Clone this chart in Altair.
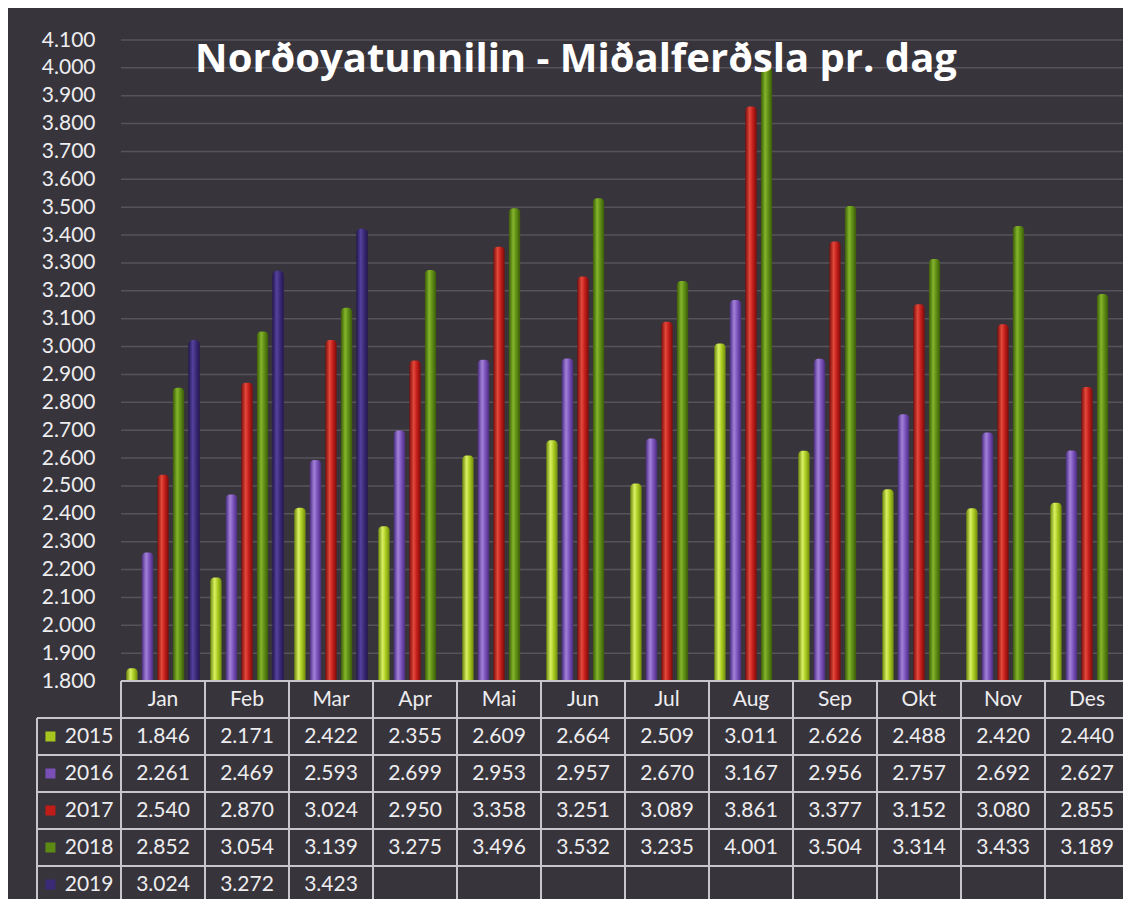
import altair as alt
import pandas as pd

# ---------------- data ----------------
months = ["Jan", "Feb", "Mar", "Apr", "Mai", "Jun", "Jul", "Aug", "Sep", "Okt", "Nov", "Des"]
years = ["2015", "2016", "2017", "2018", "2019"]
v2015 = [1846, 2171, 2422, 2355, 2609, 2664, 2509, 3011, 2626, 2488, 2420, 2440]
v2016 = [2261, 2469, 2593, 2699, 2953, 2957, 2670, 3167, 2956, 2757, 2692, 2627]
v2017 = [2540, 2870, 3024, 2950, 3358, 3251, 3089, 3861, 3377, 3152, 3080, 2855]
v2018 = [2852, 3054, 3139, 3275, 3496, 3532, 3235, 4001, 3504, 3314, 3433, 3189]
v2019 = [3024, 3272, 3423]
y_ticks = [1800, 1900, 2000, 2100, 2200, 2300, 2400, 2500, 2600, 2700, 2800, 2900,
           3000, 3100, 3200, 3300, 3400, 3500, 3600, 3700, 3800, 3900, 4000, 4100]
title_text = "Norðoyatunnilin - Miðalferðsla pr. dag"

# ---------------- style ----------------
BG = "#38343b"
GRID = "#57535b"
LINE = "#c6c6cc"
TXT = "#ededf0"
FONT = "Lato"
base_colors = ["#a6c61e", "#7a50b8", "#c01c18", "#5c8a14", "#3b2a78"]
shades = {
    "2015": ("#6f8a0e", "#d8f060", "#a6c61e"),
    "2016": ("#4a2c80", "#a282da", "#7a50b8"),
    "2017": ("#780e0c", "#e4483a", "#c01c18"),
    "2018": ("#3a5a0a", "#84b42a", "#5c8a14"),
    "2019": ("#221650", "#54429c", "#3b2a78"),
}

PLOT_W, PLOT_H = 1086, 891
X_END = 1092
TAB_TOP = 673
ROW_H = 37

rows = []
for yr, vals in zip(years, [v2015, v2016, v2017, v2018, v2019]):
    for m, v in zip(months, vals):
        rows.append({"month": m, "year": yr, "value": v})
bars_df = pd.DataFrame(rows)

x_scale = alt.Scale(domain=["hdr"] + months, range=[0, X_END], paddingInner=0, paddingOuter=0)
y_bar = alt.Scale(domain=[1800, 4100], range=[TAB_TOP, 32], zero=False, nice=False)
y_tab = alt.Scale(domain=["hdr"] + years, range=[TAB_TOP, TAB_TOP + 6 * ROW_H],
                  paddingInner=0, paddingOuter=0)
xoff = alt.Scale(domain=years, paddingInner=0.27, paddingOuter=0.34)

yaxis = alt.Axis(values=y_ticks,
                 labelExpr="replace(format(datum.value, ','), ',', '.')",
                 grid=False, ticks=False, domain=False, title=None,
                 labelFontSize=21, labelColor=TXT, labelFont=FONT,
                 labelPadding=0, offset=-58, labelFlush=False, labelOverlap=False)

# grid rules
grid_df = pd.DataFrame({"tick": y_ticks, "start": ["Jan"] * len(y_ticks)})
grid = alt.Chart(grid_df).mark_rule(color=GRID, strokeWidth=1.5).encode(
    x=alt.X("start:N", scale=x_scale, bandPosition=0, axis=None),
    x2=alt.value(X_END),
    y=alt.Y("tick:Q", scale=y_bar, axis=yaxis),
)

bar_layers = []
for yr in years:
    dark, light, base = shades[yr]
    grad = alt.Gradient(
        gradient="linear", x1=0, x2=1, y1=0, y2=0,
        stops=[alt.GradientStop(color=dark, offset=0),
               alt.GradientStop(color=light, offset=0.38),
               alt.GradientStop(color=base, offset=0.68),
               alt.GradientStop(color=dark, offset=1)])
    layer = alt.Chart(bars_df[bars_df["year"] == yr]).mark_bar(
        fill=grad, cornerRadiusTopLeft=4, cornerRadiusTopRight=4
    ).encode(
        x=alt.X("month:N", scale=x_scale, axis=None),
        xOffset=alt.XOffset("year:N", scale=xoff),
        y=alt.Y("value:Q", scale=y_bar, axis=yaxis),
        y2=alt.datum(1800),
    )
    bar_layers.append(layer)

bar_group = alt.layer(grid, *bar_layers)

# ---------------- table ----------------
hl_df = pd.DataFrame({"row": ["hdr"] + years, "start": ["Jan"] + ["hdr"] * len(years)})
hlines = alt.Chart(hl_df).mark_rule(color=LINE, strokeWidth=2).encode(
    x=alt.X("start:N", scale=x_scale, bandPosition=0, axis=None),
    x2=alt.value(X_END),
    y=alt.Y("row:N", scale=y_tab, bandPosition=0, axis=None),
)
vl_df = pd.DataFrame({"col": ["hdr"] + months, "top": ["2015"] + ["hdr"] * len(months)})
vlines = alt.Chart(vl_df).mark_rule(color=LINE, strokeWidth=2).encode(
    x=alt.X("col:N", scale=x_scale, bandPosition=0, axis=None),
    y=alt.Y("top:N", scale=y_tab, bandPosition=0, axis=None),
    y2=alt.value(PLOT_H),
)

hdr_df = pd.DataFrame({"month": months, "row": ["hdr"] * len(months)})
hdr_text = alt.Chart(hdr_df).mark_text(font=FONT, fontSize=21, color=TXT).encode(
    x=alt.X("month:N", scale=x_scale, axis=None),
    y=alt.Y("row:N", scale=y_tab, axis=None),
    text="month:N",
)

val_text = alt.Chart(bars_df).transform_calculate(
    label="replace(format(datum.value, ','), ',', '.')"
).mark_text(font=FONT, fontSize=21, color=TXT).encode(
    x=alt.X("month:N", scale=x_scale, axis=None),
    y=alt.Y("year:N", scale=y_tab, axis=None),
    text="label:N",
)

yr_df = pd.DataFrame({"year": years, "col": ["hdr"] * len(years)})
markers = alt.Chart(yr_df).mark_point(shape="square", filled=True, size=100, opacity=1).encode(
    x=alt.X("col:N", scale=x_scale, bandPosition=0.16, axis=None),
    y=alt.Y("year:N", scale=y_tab, axis=None),
    color=alt.Color("year:N", scale=alt.Scale(domain=years, range=base_colors), legend=None),
)
yr_text = alt.Chart(yr_df).mark_text(font=FONT, fontSize=21, color=TXT, align="left").encode(
    x=alt.X("col:N", scale=x_scale, bandPosition=0.33, axis=None),
    y=alt.Y("year:N", scale=y_tab, axis=None),
    text="year:N",
)

table_group = alt.layer(hlines, vlines, hdr_text, val_text, markers, yr_text)

title_layer = alt.Chart(pd.DataFrame({"t": [title_text]})).mark_text(
    font="Open Sans", fontSize=40, fontWeight="bold", color="#ffffff",
    align="center", baseline="alphabetic"
).encode(x=alt.value(539), y=alt.value(64), text="t:N")

chart = alt.layer(bar_group, table_group, title_layer).resolve_scale(
    y="independent"
).properties(
    width=PLOT_W, height=PLOT_H,
    padding={"left": 29, "top": 0, "right": 0, "bottom": 0},
    autosize=alt.AutoSizeParams(type="none"),
    background=BG,
).configure_view(stroke=None, fill=BG)

chart.save("out.html", embed_options={"renderer": "svg", "actions": False})
